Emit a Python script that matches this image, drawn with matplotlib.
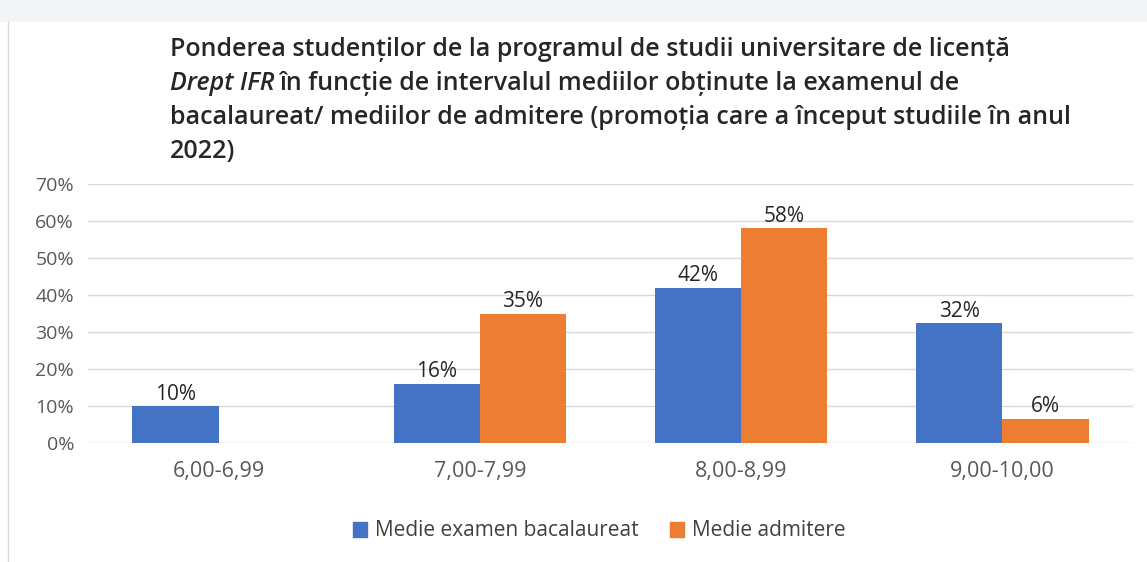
import matplotlib
matplotlib.use("Agg")
import matplotlib.pyplot as plt
import numpy as np
from matplotlib.patches import Rectangle
from matplotlib.lines import Line2D

categories = ["6,00-6,99", "7,00-7,99", "8,00-8,99", "9,00-10,00"]
bac_values = [10, 16, 42, 32.4]
adm_values = [0, 35, 58, 6.6]
bac_labels = ["10%", "16%", "42%", "32%"]
adm_labels = ["", "35%", "58%", "6%"]
series_names = ["Medie examen bacalaureat", "Medie admitere"]
yticks = [0, 10, 20, 30, 40, 50, 60, 70]

blue = "#4472C4"
orange = "#ED7D31"
font = ["Open Sans", "DejaVu Sans"]
plt.rcParams["font.family"] = font

fig = plt.figure(figsize=(11.47, 5.62), dpi=100)
# background decorations
fig.patches.append(Rectangle((0, 1 - 22 / 562), 1, 22 / 562, transform=fig.transFigure,
                             facecolor="#F2F4F7", edgecolor="none", zorder=0))
fig.lines.append(Line2D([8 / 1147, 8 / 1147], [0, 1 - 22 / 562], transform=fig.transFigure,
                        color="#D9D9D9", lw=1))

ax = fig.add_axes([88 / 1147, 119 / 562, 1045 / 1147, 259 / 562])
x = np.arange(len(categories))
w = 0.33
b1 = ax.bar(x - w / 2, bac_values, w, color=blue, zorder=3)
b2 = ax.bar(x + w / 2, adm_values, w, color=orange, zorder=3)
for bars, labels in ((b1, bac_labels), (b2, adm_labels)):
    for rect, lab in zip(bars, labels):
        if lab:
            ax.text(rect.get_x() + rect.get_width() / 2, rect.get_height() + 0.4, lab,
                    ha="center", va="bottom", fontsize=15, color="#262626")

ax.set_xlim(-0.5, len(categories) - 0.5)
ax.set_ylim(0, 70)
ax.set_yticks(yticks)
ax.set_yticklabels([f"{t}%" for t in yticks])
ax.set_xticks(x)
ax.set_xticklabels(categories)
ax.tick_params(axis="both", length=0, colors="#595959")
ax.tick_params(axis="y", pad=10, labelsize=14)
ax.tick_params(axis="x", pad=13, labelsize=15.5)
ax.grid(axis="y", color="#D9D9D9", lw=1, zorder=0)
for s in ax.spines.values():
    s.set_visible(False)

# Title
tx = 170 / 1147
fs = 18
tc = "#262626"
fig.text(tx, 1 - 50 / 562, "Ponderea studenților de la programul de studii universitare de licență",
         fontsize=fs, fontweight="semibold", color=tc, va="center", ha="left")
t1 = fig.text(tx, 1 - 84 / 562, "Drept IFR", fontsize=fs, fontweight="semibold", fontstyle="italic",
              color=tc, va="center", ha="left")
fig.canvas.draw()
bb = t1.get_window_extent()
fig.text(bb.x1 / fig.bbox.width + 5 / 1147, 1 - 84 / 562,
         "în funcție de intervalul mediilor obținute la examenul de",
         fontsize=fs, fontweight="semibold", color=tc, va="center", ha="left")
fig.text(tx, 1 - 117 / 562,
         "bacalaureat/ mediilor de admitere (promoția care a început studiile în anul",
         fontsize=fs, fontweight="semibold", color=tc, va="center", ha="left")
fig.text(tx, 1 - 152 / 562, "2022)", fontsize=fs, fontweight="semibold", color=tc,
         va="center", ha="left")

handles = [Rectangle((0, 0), 1, 1, color=blue), Rectangle((0, 0), 1, 1, color=orange)]
fig.legend(handles, series_names, loc="center", bbox_to_anchor=(599 / 1147, 1 - 531 / 562),
           ncol=2, frameon=False, fontsize=15, handlelength=0.7, handleheight=0.7,
           handletextpad=0.35, columnspacing=1.5, labelcolor="#404040")

fig.savefig("out.png", dpi=100)
